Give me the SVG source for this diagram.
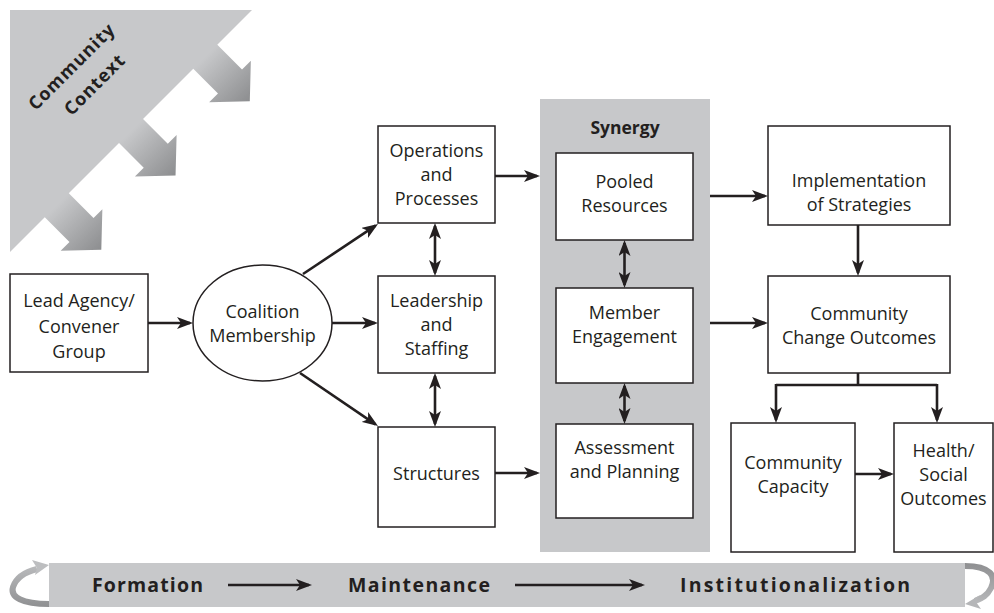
<svg xmlns="http://www.w3.org/2000/svg" width="994" height="613" viewBox="0 0 994 613">
<style>
  .box { fill: #ffffff; stroke: #231f20; stroke-width: 1.5; }
  .t { font-family: "Open Sans", "Noto Sans", "DejaVu Sans", sans-serif; font-size: 18px; fill: #231f20; text-anchor: middle; }
  .tb { font-family: "Open Sans", "Noto Sans", "DejaVu Sans", sans-serif; font-size: 17.5px; font-weight: bold; fill: #231f20; text-anchor: middle; }
  .band { font-family: "Open Sans", "Noto Sans", "DejaVu Sans", sans-serif; font-size: 19.5px; font-weight: bold; fill: #231f20; }
  .ctx { font-family: "Open Sans", "Noto Sans", "DejaVu Sans", sans-serif; font-size: 18px; font-weight: bold; fill: #231f20; text-anchor: middle; letter-spacing: 1px; }
  .conn { fill: none; stroke: #231f20; stroke-width: 2.6; }
  .a { marker-end: url(#ah); }
  .aa { marker-start: url(#ah); marker-end: url(#ah); }
  .gray { fill: #c7c8ca; }
</style>
<defs>
  <marker id="ah" markerUnits="userSpaceOnUse" viewBox="0 0 16 12" markerWidth="16" markerHeight="12" refX="13" refY="6" orient="auto-start-reverse">
    <path d="M0,0 L16,6 L0,12 L4,6 z" fill="#231f20"/>
  </marker>
  <linearGradient id="ctxg" gradientUnits="userSpaceOnUse" x1="0" y1="0" x2="63" y2="0">
    <stop offset="0" stop-color="#c7c8ca"/>
    <stop offset="1" stop-color="#8c8d8f"/>
  </linearGradient>
  <linearGradient id="gl" gradientUnits="userSpaceOnUse" x1="0" y1="608" x2="0" y2="562">
    <stop offset="0" stop-color="#8e8f91"/>
    <stop offset="1" stop-color="#bdbec0"/>
  </linearGradient>
  <linearGradient id="gr" gradientUnits="userSpaceOnUse" x1="0" y1="563" x2="0" y2="609">
    <stop offset="0" stop-color="#8e8f91"/>
    <stop offset="1" stop-color="#bdbec0"/>
  </linearGradient>
</defs>

<!-- Community context corner -->
<g id="community-context">
  <polygon class="gray" points="10,10 252,10 10,252"/>
  <g transform="translate(131,131) rotate(45)" fill="url(#ctxg)">
    <polygon points="-1,-122 35,-122 35,-134.5 63,-105 35,-75.5 35,-88 -1,-88"/>
    <polygon points="-1,-17 35,-17 35,-29.5 63,0 35,29.5 35,17 -1,17"/>
    <polygon points="-1,88 35,88 35,75.5 63,105 35,134.5 35,122 -1,122"/>
  </g>
  <text class="ctx" transform="translate(76,71) rotate(-45)">Community</text>
  <text class="ctx" transform="translate(99,89) rotate(-45)">Context</text>
</g>

<!-- Synergy panel -->
<g id="synergy">
  <rect class="gray" x="540" y="99" width="170" height="453"/>
  <text class="tb" x="625" y="134">Synergy</text>
</g>

<g id="lead-agency">
  <rect class="box" x="10" y="274" width="138" height="98"/>
  <text class="t"><tspan x="79" y="307">Lead Agency/</tspan><tspan x="79" y="332.5">Convener</tspan><tspan x="79" y="358">Group</tspan></text>
</g>

<g id="coalition-membership">
  <ellipse cx="262.5" cy="323" rx="69.5" ry="58" fill="#ffffff" stroke="#231f20" stroke-width="1.5"/>
  <text class="t"><tspan x="262.5" y="317.5">Coalition</tspan><tspan x="262.5" y="341.5">Membership</tspan></text>
</g>

<g id="operations">
  <rect class="box" x="378" y="126" width="117" height="97"/>
  <text class="t"><tspan x="436.5" y="157">Operations</tspan><tspan x="436.5" y="181">and</tspan><tspan x="436.5" y="205">Processes</tspan></text>
</g>

<g id="leadership">
  <rect class="box" x="378" y="276" width="117" height="97"/>
  <text class="t"><tspan x="436.5" y="307">Leadership</tspan><tspan x="436.5" y="331">and</tspan><tspan x="436.5" y="355">Staffing</tspan></text>
</g>

<g id="structures">
  <rect class="box" x="378" y="427" width="117" height="100"/>
  <text class="t" x="436.5" y="480">Structures</text>
</g>

<g id="pooled-resources">
  <rect class="box" x="556" y="153" width="137" height="87"/>
  <text class="t"><tspan x="624.5" y="188">Pooled</tspan><tspan x="624.5" y="212">Resources</tspan></text>
</g>

<g id="member-engagement">
  <rect class="box" x="556" y="288" width="137" height="95"/>
  <text class="t"><tspan x="624.5" y="318.5">Member</tspan><tspan x="624.5" y="342.5">Engagement</tspan></text>
</g>

<g id="assessment-planning">
  <rect class="box" x="556" y="424" width="137" height="94"/>
  <text class="t"><tspan x="624.5" y="453.5">Assessment</tspan><tspan x="624.5" y="477.5">and Planning</tspan></text>
</g>

<g id="implementation">
  <rect class="box" x="768" y="126" width="182" height="99"/>
  <text class="t"><tspan x="859" y="186.5">Implementation</tspan><tspan x="859" y="211">of Strategies</tspan></text>
</g>

<g id="community-change-outcomes">
  <rect class="box" x="768" y="276" width="182" height="97"/>
  <text class="t"><tspan x="859" y="319.5">Community</tspan><tspan x="859" y="343.5">Change Outcomes</tspan></text>
</g>

<g id="community-capacity">
  <rect class="box" x="731" y="423" width="124" height="129"/>
  <text class="t"><tspan x="793" y="468.5">Community</tspan><tspan x="793" y="492.5">Capacity</tspan></text>
</g>

<g id="health-social-outcomes">
  <rect class="box" x="894" y="423" width="99" height="129"/>
  <text class="t"><tspan x="943.5" y="456.5">Health/</tspan><tspan x="943.5" y="480.5">Social</tspan><tspan x="943.5" y="504.5">Outcomes</tspan></text>
</g>

<!-- Connectors -->
<g id="connectors">
  <path class="conn a" d="M148 323 H190"/>
  <path class="conn a" d="M303 274 L375.5 225.7"/>
  <path class="conn a" d="M332 323 H375"/>
  <path class="conn a" d="M300 373 L375.5 424.3"/>
  <path class="conn aa" d="M435 226 V273"/>
  <path class="conn aa" d="M435 376 V424"/>
  <path class="conn a" d="M495 176 H537"/>
  <path class="conn a" d="M495 473 H537"/>
  <path class="conn aa" d="M624.5 243 V285"/>
  <path class="conn aa" d="M624.5 386 V421"/>
  <path class="conn a" d="M710 196 H765"/>
  <path class="conn a" d="M710 323 H765"/>
  <path class="conn a" d="M858 225 V273"/>
  <path class="conn" d="M858 373 V385 M776 385 H937"/>
  <path class="conn a" d="M776 384 V420"/>
  <path class="conn a" d="M937 384 V420"/>
  <path class="conn a" d="M855 474 H891"/>
</g>

<!-- Phase band -->
<g id="phases">
  <path d="M49 604 C 22 604, 10 597, 13 587 C 16 578, 25 572, 37 569" fill="none" stroke="url(#gl)" stroke-width="6"/>
  <polygon points="32,560 49,565 35,575 37,568" fill="#bdbec0"/>
  <path d="M965 566 C 990 566, 997 576, 991 588 C 987 596, 982 598, 975 601" fill="none" stroke="url(#gr)" stroke-width="6"/>
  <polygon points="980,595 965,604 981,609 976,602" fill="#b5b6b8"/>
  <rect class="gray" x="49" y="563" width="916" height="44"/>
  <text class="band" x="92" y="592" textLength="111" lengthAdjust="spacing">Formation</text>
  <path class="conn a" d="M228 585 H309"/>
  <text class="band" x="348" y="592" textLength="142" lengthAdjust="spacing">Maintenance</text>
  <path class="conn a" d="M515 585 H642"/>
  <text class="band" x="680" y="592" textLength="230" lengthAdjust="spacing">Institutionalization</text>
</g>
</svg>
